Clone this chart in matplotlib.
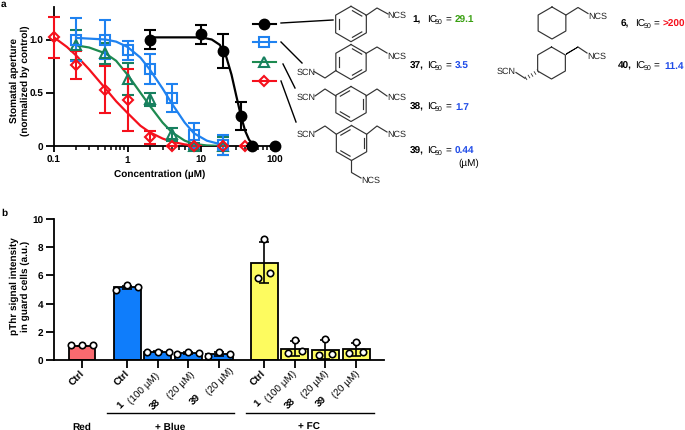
# -*- coding: utf-8 -*-
import numpy as np
import matplotlib
matplotlib.use('Agg')
import matplotlib.pyplot as plt

plt.rcParams['font.family'] = ['Liberation Sans', 'DejaVu Sans']
plt.rcParams['text.hinting'] = 'no_hinting'
plt.rcParams['text.hinting_factor'] = 1

# panel a points
conc_1 = [2, 10, 20, 35, 50, 100]
val_1 = [1.0, 1.05, 0.89, 0.28, 0.0, 0.0]
err_1 = [0.09, 0.09, 0.16, 0.13, 0.0, 0.0]
conc_37 = [0.2, 0.5, 1, 2, 4, 8, 20]
val_37 = [1.0, 1.0, 0.9, 0.72, 0.45, 0.1, 0.01]
err_37 = [0.2, 0.18, 0.09, 0.14, 0.13, 0.12, 0.09]
conc_38 = [0.2, 0.5, 1, 2, 4, 8, 20]
val_38 = [0.95, 0.87, 0.63, 0.44, 0.11, 0.0, 0.0]
err_38 = [0.14, 0.1, 0.15, 0.06, 0.06, 0.03, 0.08]
conc_39 = [0.1, 0.2, 0.5, 1, 2, 4, 8, 20, 40]
val_39 = [1.02, 0.76, 0.53, 0.43, 0.08, 0.0, 0.0, 0.0, 0.0]
err_39 = [0.19, 0.13, 0.22, 0.29, 0.06, 0.0, 0.0, 0.0, 0.0]

# fitted curves
fit_x_1 = [2, 5, 10, 14, 18, 22, 26, 30, 35, 40, 45, 50, 60]
fit_y_1 = [1.02, 1.02, 1.02, 1.0, 0.95, 0.84, 0.67, 0.48, 0.28, 0.14, 0.06, 0.02, 0.0]
fit_x_37 = [0.2, 0.5, 0.7, 1, 1.5, 2, 3, 4, 6, 8, 12, 20]
fit_y_37 = [1.015, 1.0, 0.98, 0.93, 0.83, 0.72, 0.54, 0.4, 0.22, 0.12, 0.05, 0.01]
fit_x_38 = [0.2, 0.3, 0.5, 0.7, 1, 1.5, 2, 3, 4, 6, 8, 12, 20]
fit_y_38 = [0.945, 0.925, 0.87, 0.8, 0.67, 0.5, 0.38, 0.22, 0.13, 0.05, 0.02, 0.005, 0.0]
fit_x_39 = [0.1, 0.15, 0.2, 0.3, 0.5, 0.7, 1, 1.5, 2, 3, 4, 6, 8, 10]
fit_y_39 = [1.02, 0.93, 0.85, 0.72, 0.54, 0.42, 0.31, 0.19, 0.13, 0.07, 0.04, 0.015, 0.005, 0.0]

# panel b
bar_pos = [0, 1.47, 2.47, 3.47, 4.47, 5.94, 6.94, 7.94, 8.94]
bar_val = [1.0, 5.15, 0.58, 0.5, 0.42, 6.9, 0.8, 0.72, 0.75]
bar_err = [0.02, 0.13, 0.03, 0.07, 0.12, 1.45, 0.55, 0.68, 0.45]
bar_col = ['#f96a6f', '#0f7dfb', '#0f7dfb', '#0f7dfb', '#0f7dfb',
           '#fdfb5f', '#fdfb5f', '#fdfb5f', '#fdfb5f']
dots = [[1.03, 1.03, 1.03], [5.0, 5.3, 5.2], [0.55, 0.6, 0.6], [0.42, 0.58, 0.48],
        [0.28, 0.55, 0.45], [5.8, 8.58, 6.2], [0.5, 1.44, 0.62], [0.35, 1.5, 0.45],
        [0.5, 1.25, 0.6]]
dot_off = [0.36, 0.36, 0.36, 0.36, 0.36, 0.2, 0.22, 0.22, 0.22]

BLUE = '#1f82f0'
GREEN = '#17805f'
LINE_GREEN = '#1d8a50'
RED = '#f5101c'

fig = plt.figure(figsize=(6.85, 4.31), dpi=100)

# overlay in pixel coords for the chemistry + labels
ov = fig.add_axes([0, 0, 1, 1])
ov.set_xlim(0, 685)
ov.set_ylim(431, 0)
ov.axis('off')

ax = fig.add_axes([54/685, (431-147)/431, (274.5-54)/685, 139/431])
ax.set_xscale('log')
ax.set_xlim(0.1, 100)
ax.set_ylim(0, 139/106.5)
ax.patch.set_alpha(0)


def series(x, y, e, fx, fy, col, lcol, marker, ms, mfc='white'):
    ax.plot(fx, fy, color=lcol, lw=1.6, zorder=3)
    ax.errorbar(x, y, yerr=e, fmt='none', ecolor=col, elinewidth=1.5,
                capsize=4, capthick=1.5, clip_on=False, zorder=4)
    ax.plot(x, y, ls='none', marker=marker, ms=ms, mfc=mfc, mec=col, mew=1.5,
            clip_on=False, zorder=5)


series(conc_38, val_38, err_38, fit_x_38, fit_y_38, GREEN, LINE_GREEN, '^', 7.5, 'none')
series(conc_37, val_37, err_37, fit_x_37, fit_y_37, BLUE, BLUE, 's', 7, 'none')
series(conc_39, val_39, err_39, fit_x_39, fit_y_39, RED, RED, 'D', 5.5, 'none')
series(conc_1, val_1, err_1, fit_x_1, fit_y_1, 'black', 'black', 'o', 7, 'black')

fs = 7.2
for s in ['top', 'right']:
    ax.spines[s].set_visible(False)
for s in ['left', 'bottom']:
    ax.spines[s].set_linewidth(1.3)
ax.set_xticks([0.1, 1, 10, 100])
ax.set_xticklabels(['0.1', '1', '10', '100'], fontweight='bold', fontsize=fs)
ax.set_yticks([0, 0.5, 1.0])
ax.set_yticklabels(['0', '0.5', '1.0'], fontweight='bold', fontsize=fs)
ax.tick_params(axis='y', which='major', length=6, width=1.3, pad=1.5)
ax.tick_params(axis='x', which='major', length=4.5, width=1.3, pad=2)
ax.tick_params(axis='x', which='minor', length=3, width=1.1)
ax.xaxis.set_minor_formatter(matplotlib.ticker.NullFormatter())
ax.set_xlabel('Concentration (µM)', fontweight='bold', fontsize=fs, labelpad=3, x=0.48)
ax.set_ylabel('Stomatal aperture\n(normalized by control)', fontweight='bold',
              fontsize=fs, labelpad=0, linespacing=1.2, y=0.475)

# panel b
bx = fig.add_axes([54/685, (431-361)/431, (384-54)/685, 141/431])
bx.set_xlim(-0.913, 9.85)
bx.set_ylim(0, 10)
bx.patch.set_alpha(0)
bx.bar(bar_pos, bar_val, width=0.88, color=bar_col, edgecolor='black', linewidth=1.3, zorder=2)
bx.errorbar(bar_pos, bar_val, yerr=bar_err, fmt='none', ecolor='black', elinewidth=1.2,
            capsize=3.5, capthick=1.2, zorder=3)
for p, d, o in zip(bar_pos, dots, dot_off):
    bx.plot([p - o, p, p + o], d, ls='none', marker='o', ms=4.6, mfc='white',
            mec='black', mew=1.2, clip_on=False, zorder=4)
for s in ['top', 'right']:
    bx.spines[s].set_visible(False)
for s in ['left', 'bottom']:
    bx.spines[s].set_linewidth(1.3)
bx.set_xticks(bar_pos)
bx.set_xticklabels([])
bx.set_yticks([0, 2, 4, 6, 8, 10])
bx.set_yticklabels(['0', '2', '4', '6', '8', '10'], fontweight='bold', fontsize=fs)
bx.tick_params(axis='both', length=6, width=1.3, pad=1.5)
bx.set_ylabel('pThr signal intensity\nin guard cells (a.u.)', fontweight='bold', fontsize=fs,
              labelpad=2, linespacing=1.2, y=0.53)

ov.text(1, 4, 'a', fontweight='bold', fontsize=7, va='center')
ov.text(1, 213, 'b', fontweight='bold', fontsize=7, va='center')

# rotated bar labels
ctrl_x = [82, 127, 263]
for x in ctrl_x:
    ov.text(x + 1, 372, 'Ctrl', rotation=45, ha='right', va='center', rotation_mode='anchor',
            fontweight='bold', fontsize=fs)
num_lab = ['1', '38', '39', '1', '38', '39']
num_pos = [(122, 403), (160, 401), (200, 396), (259, 401), (295, 400), (326, 398)]
dose_lab = ['(100 µM)', '(20 µM)', '(20 µM)', '(100 µM)', '(20 µM)', '(20 µM)']
dose_pos = [(158, 374), (193, 373), (232, 369), (295, 372), (327, 372), (358, 372)]
for n, p, d, q in zip(num_lab, num_pos, dose_lab, dose_pos):
    ov.text(p[0], p[1], n, rotation=45, ha='right', va='center', rotation_mode='anchor',
            fontweight='bold', fontsize=fs)
    ov.text(q[0], q[1], d, rotation=45, ha='right', va='center', rotation_mode='anchor',
            fontsize=fs)

ov.plot([107, 234], [414, 414], color='black', lw=1.0)
ov.plot([246, 374], [414, 414], color='black', lw=1.0)
ov.text(82, 427, 'Red', ha='center', va='center', fontweight='bold', fontsize=fs)
ov.text(170, 427, '+ Blue', ha='center', va='center', fontweight='bold', fontsize=fs)
ov.text(309, 427, '+ FC', ha='center', va='center', fontweight='bold', fontsize=fs)

# legend keys and leader lines
key_y = [25, 43, 63, 82]
key_col = ['black', BLUE, GREEN, RED]
key_line = ['black', BLUE, LINE_GREEN, RED]
key_mark = ['o', 's', '^', 'D']
key_size = [7, 7, 7.5, 5.5]
for y, c, l, m, z in zip(key_y, key_col, key_line, key_mark, key_size):
    ov.plot([253, 276], [y, y], color=l, lw=1.5)
    ov.plot([264.5], [y], marker=m, ms=z, mfc='black' if m == 'o' else 'none', mec=c, mew=1.5)
leaders = [((281, 24), (333, 21)), ((281, 43), (302, 64)), ((283, 65), (295, 89)), ((281, 82), (296, 123))]
for a, b in leaders:
    ov.plot([a[0], b[0]], [a[1], b[1]], color='black', lw=1.0)

BOND = '#333333'


def hexagon(cx, cy, r, doubles=()):
    ang = np.radians(np.arange(-90, 270, 60))
    xs = cx + r*np.cos(ang)
    ys = cy + r*np.sin(ang)
    ov.plot(np.append(xs, xs[0]), np.append(ys, ys[0]), color=BOND, lw=0.85)
    for i in doubles:
        j = (i + 1) % 6
        x1, y1 = cx + 0.8*(xs[i]-cx), cy + 0.8*(ys[i]-cy)
        x2, y2 = cx + 0.8*(xs[j]-cx), cy + 0.8*(ys[j]-cy)
        ov.plot([x1 + 0.12*(x2-x1), x2 - 0.12*(x2-x1)], [y1 + 0.12*(y2-y1), y2 - 0.12*(y2-y1)],
                color=BOND, lw=0.85)


def chain(pts):
    ov.plot([p[0] for p in pts], [p[1] for p in pts], color=BOND, lw=0.85)


def atom(x, y, s):
    ov.text(x, y, s, ha='center', va='center', fontsize=6.4, color='#222222')


# 1
hexagon(351, 25, 17.7, (0, 2, 4))
chain([(366, 16.5), (377, 9), (388, 15)])
atom(397, 15.5, 'NCS')
# 37
hexagon(351, 63, 17.5, (0, 2, 4))
chain([(366, 54.5), (377, 48), (387, 54)])
atom(397, 56.5, 'NCS')
chain([(336, 71.5), (325, 79), (314, 72.5)])
atom(306, 72.5, 'SCN')
# 38
hexagon(351, 105, 17.5, (1, 3, 5))
chain([(366, 97), (377, 90), (387, 97)])
atom(397, 97.5, 'NCS')
chain([(336, 97), (325, 90), (315, 97)])
atom(306, 97.5, 'SCN')
# 39
hexagon(351.5, 144, 17.5, (1, 3, 5))
chain([(367, 135), (377, 127), (387, 133)])
atom(397, 134.5, 'NCS')
chain([(336, 135), (325, 127), (315, 133)])
atom(306, 134.5, 'SCN')
chain([(351.5, 161.5), (351.5, 173.5), (361, 179)])
atom(371, 181, 'NCS')
# 6
hexagon(552, 24, 16)
chain([(566, 16), (578, 8.5), (588, 14.5)])
atom(598, 16.5, 'NCS')
# 40
hexagon(551.5, 64, 16)
ov.fill([566, 577.5, 578, 566.5], [55.5, 48.5, 47.8, 54.5], color='black', lw=0.5)
chain([(578, 48), (587, 54)])
atom(597, 56.5, 'NCS')
hx = np.array([538, 535, 532, 529, 526])
hy = np.array([72, 74, 76, 77.5, 79.3])
for a, b in zip(hx, hy):
    ov.plot([a-0.8, a+0.8], [b-1.3, b+1.3], color=BOND, lw=0.6)
chain([(525, 79.3), (516, 73.5)])
atom(506, 71.5, 'SCN')


def ic50(num, num_x, ic_x, eq_x, val_x, y, val, col):
    ov.text(num_x, y, num, ha='left', va='center', fontsize=7.5, fontweight='bold')
    ov.text(ic_x, y, 'IC', ha='left', va='center', fontsize=7.5)
    ov.text(ic_x + 8.5, y + 2.5, '50', ha='left', va='center', fontsize=4.8)
    ov.text(eq_x, y, '=', ha='left', va='center', fontsize=7.5)
    ov.text(val_x, y, val, ha='left', va='center', fontsize=7.5, fontweight='bold', color=col)


ic50('1,', 412.7, 426.7, 446, 455, 20, '29.1', '#3aa012')
ic50('37,', 410, 426.7, 446, 455, 66, '3.5', '#1f4be8')
ic50('38,', 410, 426.7, 446, 455, 107, '1.7', '#1f4be8')
ic50('39,', 410, 426.7, 446, 455, 151, '0.44', '#1f4be8')
ic50('6,', 621, 635, 654, 663, 24, '>200', '#f5101c')
ic50('40,', 618, 635.5, 654, 664, 66, '11.4', '#1f4be8')
ov.text(479, 163, '(µM)', ha='right', va='center', fontsize=fs)

fig.savefig('out.png', dpi=100)
